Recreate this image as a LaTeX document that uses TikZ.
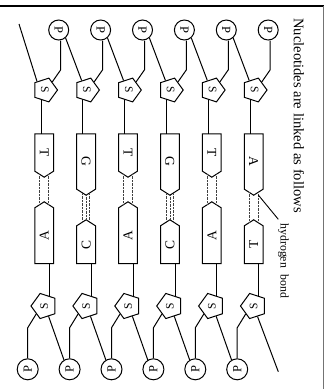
\documentclass[tikz,border=0pt]{standalone}
\usepackage{fontspec}
\setmainfont{Liberation Serif}
\usepackage{graphicx}
\usetikzlibrary{shapes.geometric}
\pgfdeclarelayer{bg}
\pgfsetlayers{bg,main}
\begin{document}
\begin{tikzpicture}[x=1pt,y=-1pt,
  pcirc/.style={circle, draw, fill=white, line width=1pt, minimum size=20pt, inner sep=0pt, font=\fontsize{12.5}{12.5}\selectfont},
  pcircb/.style={pcirc, minimum size=21pt},
  sugtop/.style={regular polygon, regular polygon sides=5, shape border rotate=-90, draw, fill=white, line width=1pt, minimum size=25pt, inner sep=0pt, font=\fontsize{11.5}{11.5}\selectfont},
  sugbot/.style={sugtop, shape border rotate=90, minimum size=26.4pt},
  basebox/.style={rectangle, minimum width=18.4pt, inner sep=0pt, font=\fontsize{13.5}{13.5}\selectfont},
  outline/.style={line width=1pt, line join=miter},
  link/.style={line width=1pt},
  hbond/.style={line width=0.65pt, black!75, dash pattern=on 0.7pt off 0.7pt},
  lead/.style={line width=0.9pt}
]
\useasboundingbox (0,0) rectangle (325,389);
% frame
\draw[line width=1.2pt] (0,6) -- (324,6);
\draw[black!55, line width=0.8pt] (323.6,6) -- (323.6,389);

\foreach \k/\tb/\bb/\tl/\hb in {0/T/A/0/{-4.5,4.5},1/G/C/1/{-3.7,0,3.7},2/T/A/0/{-4.5,4.5},3/G/C/1/{-3.7,0,3.7},4/T/A/0/{-4.5,4.5},5/A/T/1/{-4.5,4.5}}{
  \pgfmathsetmacro\c{45+41.9*\k}
  \pgfmathsetmacro\bx{\c-0.8}
  \pgfmathsetmacro\tend{171+18*\tl}
  \pgfmathsetmacro\bstart{208+18*\tl}
  \node[pcirc] (P\k) at (\c+13.7,30) {\rotatebox{-90}{P}};
  \node[sugtop] (S\k) at (\c,90) {\rotatebox{-90}{S}};
  \node[basebox, minimum height={\tend-134}] (TB\k) at (\bx,{(134+\tend)/2}) {\rotatebox{-90}{\tb}};
  \draw[outline] (TB\k.north west) -- (TB\k.south west) -- ([yshift=-6pt]TB\k.south) -- (TB\k.south east) -- (TB\k.north east) -- cycle;
  \node[basebox, minimum height={263.5-\bstart}] (BB\k) at (\bx,{(263.5+\bstart)/2}) {\rotatebox{90}{\bb}};
  \draw[outline] (BB\k.south west) -- (BB\k.north west) -- ([yshift=6pt]BB\k.north) -- (BB\k.north east) -- (BB\k.south east) -- cycle;
  \node[sugbot] (SB\k) at (\c-0.8,306) {\rotatebox{90}{S}};
  \node[pcircb] (PB\k) at (\c-17.3,369.3) {\rotatebox{90}{P}};
  \foreach \d in \hb {
    \pgfmathsetmacro\e{6*(1-abs(\d)/9.2)}
    \draw[hbond] ([xshift=\d pt, yshift=-\e pt]TB\k.south) -- ([xshift=\d pt, yshift=\e pt]BB\k.north);
  }
}

\begin{pgfonlayer}{bg}
\foreach \k in {0,...,5}{
  \draw[link] ([xshift=2pt]P\k.south) -- ++(0,29.3) -- (S\k.48);
  \coordinate (tl\k) at ([xshift=-3.2pt]TB\k.north);
  \draw[link] (tl\k) -- (tl\k |- S\k.center);
  \coordinate (bl\k) at ([xshift=5.1pt]BB\k.south);
  \draw[link] (bl\k) -- (bl\k |- SB\k.center);
  \draw[link] (PB\k.north) -- ++(0,-30.5) -- (SB\k.225);
  \ifnum\k<5
    \pgfmathtruncatemacro\kn{\k+1}
    \draw[link] (P\k.-49) -- (S\kn.119);
    \draw[link] (SB\k.-67) -- (PB\kn.121);
  \fi
}
\coordinate (free1) at (19,24);
\draw[link] (free1) -- (S0.133);
\coordinate (free2) at (278.3,371.7);
\draw[link] (SB5.-70) -- (free2);
\end{pgfonlayer}

% labels
\node[rotate=-90, anchor=base west, inner sep=0pt, font=\fontsize{14.6}{16}\selectfont] (title) at (293.8,18) {Nucleotides are linked as follows};
\node[rotate=-90, anchor=base west, inner sep=0pt, font=\fontsize{11.8}{13}\selectfont] (hblabel) at (280.5,223.3) {hydrogen\hspace{6.7pt}bond};
\coordinate (hbp) at (258.3,195);
\coordinate (hbq) at (278.3,219.3);
\draw[lead] (hbp) -- (hbq);
\end{tikzpicture}
\end{document}
